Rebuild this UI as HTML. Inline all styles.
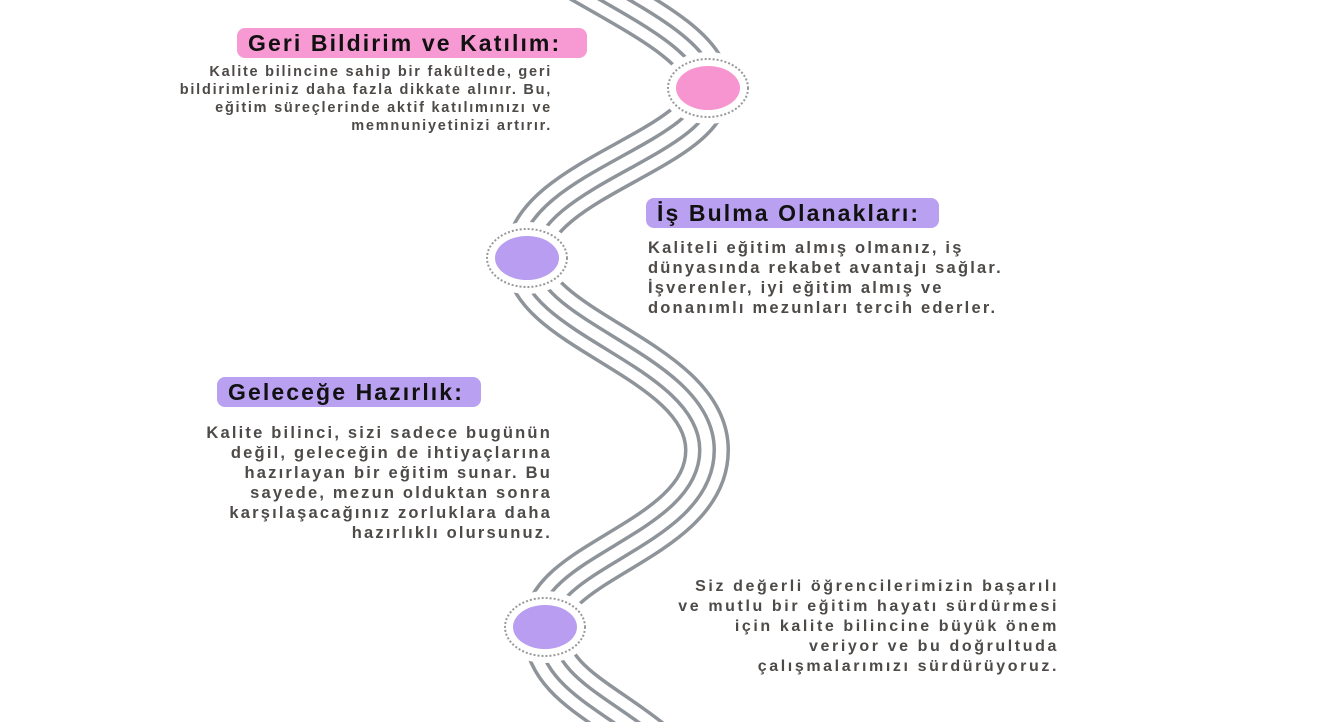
<!DOCTYPE html>
<html><head><meta charset="utf-8"><style>
body{margin:0;width:1341px;height:722px;background:#fff;position:relative;overflow:hidden;font-family:"Liberation Sans",sans-serif;}
.t{position:absolute;height:30px;border-radius:8px;font-weight:bold;font-size:23px;line-height:30px;color:#111;letter-spacing:2.1px;white-space:nowrap;box-sizing:border-box;}
.b{position:absolute;font-weight:bold;color:#4d4a48;white-space:nowrap;}
svg{position:absolute;left:0;top:0}
</style></head><body>
<svg width="1341" height="722">
<g fill="none">
<path d="M 580 -20 C 650 20, 708 50, 708 88 C 708 150, 527 180, 527 258 C 527 330, 707 360, 707 450 C 707 540, 545 560, 545 627 C 545 680, 600 700, 650 740" stroke="#8e9499" stroke-width="46"/>
<path d="M 580 -20 C 650 20, 708 50, 708 88 C 708 150, 527 180, 527 258 C 527 330, 707 360, 707 450 C 707 540, 545 560, 545 627 C 545 680, 600 700, 650 740" stroke="#fff" stroke-width="39"/>
<path d="M 580 -20 C 650 20, 708 50, 708 88 C 708 150, 527 180, 527 258 C 527 330, 707 360, 707 450 C 707 540, 545 560, 545 627 C 545 680, 600 700, 650 740" stroke="#8e9499" stroke-width="18"/>
<path d="M 580 -20 C 650 20, 708 50, 708 88 C 708 150, 527 180, 527 258 C 527 330, 707 360, 707 450 C 707 540, 545 560, 545 627 C 545 680, 600 700, 650 740" stroke="#fff" stroke-width="11"/>
</g>
<g>
<ellipse cx="708" cy="88" rx="47" ry="36" fill="#fff"/>
<ellipse cx="708" cy="88" rx="40" ry="29" fill="none" stroke="#999" stroke-width="2" stroke-dasharray="2 2"/>
<ellipse cx="708" cy="88" rx="32" ry="22" fill="#f795d0"/>
<ellipse cx="527" cy="258" rx="47" ry="36" fill="#fff"/>
<ellipse cx="527" cy="258" rx="40" ry="29" fill="none" stroke="#999" stroke-width="2" stroke-dasharray="2 2"/>
<ellipse cx="527" cy="258" rx="32" ry="22" fill="#b89df0"/>
<ellipse cx="545" cy="627" rx="47" ry="36" fill="#fff"/>
<ellipse cx="545" cy="627" rx="40" ry="29" fill="none" stroke="#999" stroke-width="2" stroke-dasharray="2 2"/>
<ellipse cx="545" cy="627" rx="32" ry="22" fill="#b89df0"/>
</g>
</svg>
<div class="t" style="left:237px;top:28px;width:350px;background:#f79ad3;padding-left:11px">Geri Bildirim ve Katılım:</div>
<div class="b" style="right:789px;top:63px;font-size:14.5px;line-height:18px;letter-spacing:1.75px;text-align:right">Kalite bilincine sahip bir fakültede, geri<br>bildirimleriniz daha fazla dikkate alınır. Bu,<br>eğitim süreçlerinde aktif katılımınızı ve<br>memnuniyetinizi artırır.</div>
<div class="t" style="left:646px;top:198px;width:293px;background:#b9a0f0;padding-left:11px">İş Bulma Olanakları:</div>
<div class="b" style="left:648px;top:238px;font-size:16.5px;line-height:20px;letter-spacing:2.2px">Kaliteli eğitim almış olmanız, iş<br>dünyasında rekabet avantajı sağlar.<br>İşverenler, iyi eğitim almış ve<br>donanımlı mezunları tercih ederler.</div>
<div class="t" style="left:217px;top:377px;width:264px;background:#b9a0f0;padding-left:11px">Geleceğe Hazırlık:</div>
<div class="b" style="right:789px;top:423px;font-size:16.5px;line-height:20px;letter-spacing:2.2px;text-align:right">Kalite bilinci, sizi sadece bugünün<br>değil, geleceğin de ihtiyaçlarına<br>hazırlayan bir eğitim sunar. Bu<br>sayede, mezun olduktan sonra<br>karşılaşacağınız zorluklara daha<br>hazırlıklı olursunuz.</div>
<div class="b" style="right:282px;top:577px;font-size:16px;line-height:20px;letter-spacing:2.6px;text-align:right">Siz değerli öğrencilerimizin başarılı<br>ve mutlu bir eğitim hayatı sürdürmesi<br>için kalite bilincine büyük önem<br>veriyor ve bu doğrultuda<br>çalışmalarımızı sürdürüyoruz.</div>
</body></html>
